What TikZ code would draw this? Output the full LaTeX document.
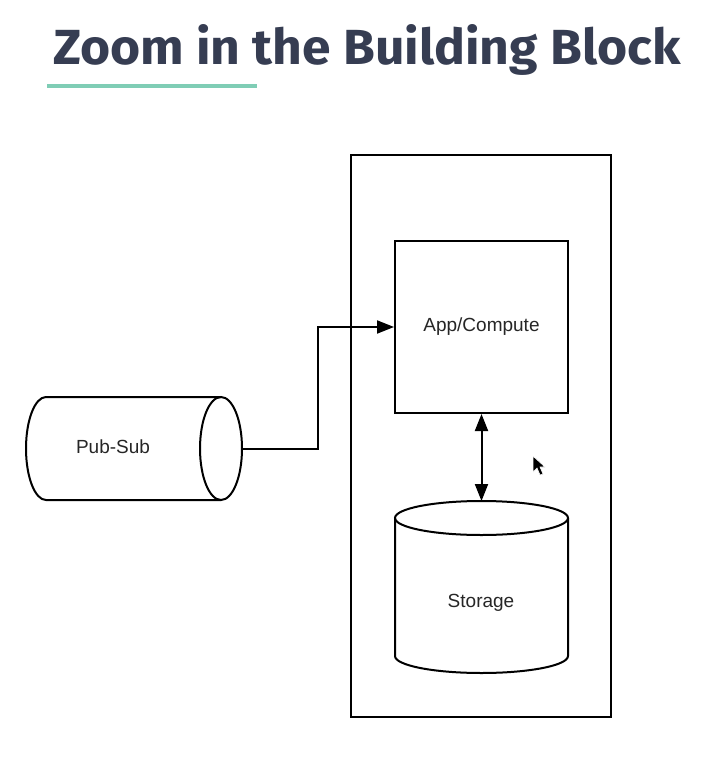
\documentclass[tikz,border=0pt]{standalone}
\usepackage{fontspec}
\setmainfont{Liberation Sans}
\newfontfamily\titlefont{Fira Sans}
\usetikzlibrary{arrows.meta}
\definecolor{titlecol}{HTML}{363D52}
\definecolor{tealline}{HTML}{7FCDB5}
\tikzset{
  shape line/.style={line width=2pt, draw=black},
  lbl/.style={font=\fontsize{19}{22}\selectfont, text=black!85},
  arr/.style={line width=2pt, -{Triangle[length=17pt,width=13pt]}},
  dblarr/.style={line width=2pt, {Triangle[length=17pt,width=13pt]}-{Triangle[length=17pt,width=13pt]}},
}
\begin{document}
\begin{tikzpicture}[x=1pt,y=-1pt]
\useasboundingbox (0,0) rectangle (712,768);
% title
\node[anchor=base west, inner sep=0pt, text=titlecol] (title) at (53,65) {\resizebox{627pt}{40pt}{\titlefont\bfseries Zoom in the Building Block}};
\draw[tealline, line width=4pt] (47,86) -- (257,86);
% outer block
\node[shape line, minimum width=260, minimum height=562, inner sep=0pt] (block) at (481,436) {};
% App/Compute
\node[shape line, fill=white, minimum width=173, minimum height=172, inner sep=0pt, lbl] (app) at (481.5,327) {App/Compute};
% Storage cylinder
\fill[white] (395,518) rectangle (568,656);
\draw[shape line] (481.5,518) ellipse [x radius=86.5, y radius=17];
\draw[shape line] (395,518) -- (395,656) arc[start angle=180, end angle=0, x radius=86.5, y radius=17] -- (568,518);
\node[lbl] (storage) at (481,603) {Storage};
\coordinate (stortop) at (481.5,501);
% Pub-Sub cylinder
\draw[shape line] (221,448.5) ellipse [x radius=21, y radius=51.5];
\draw[shape line] (221,397) -- (46,397) arc[start angle=270, end angle=90, x radius=20, y radius=51.5] -- (221,500);
\node[lbl] (pubsub) at (113,447) {Pub-Sub};
\coordinate (psR) at (242,449);
% connectors
\draw[arr] (psR) -- (318,449) |- (app.west);
\draw[dblarr] (app.south) -- (stortop);
% mouse cursor
\filldraw[fill=black, draw=white, line width=0.6pt] (533,456) -- (533,472) -- (537,468) -- (540,475) -- (543,474) -- (540,467) -- (545,467) -- cycle;
\end{tikzpicture}
\end{document}
